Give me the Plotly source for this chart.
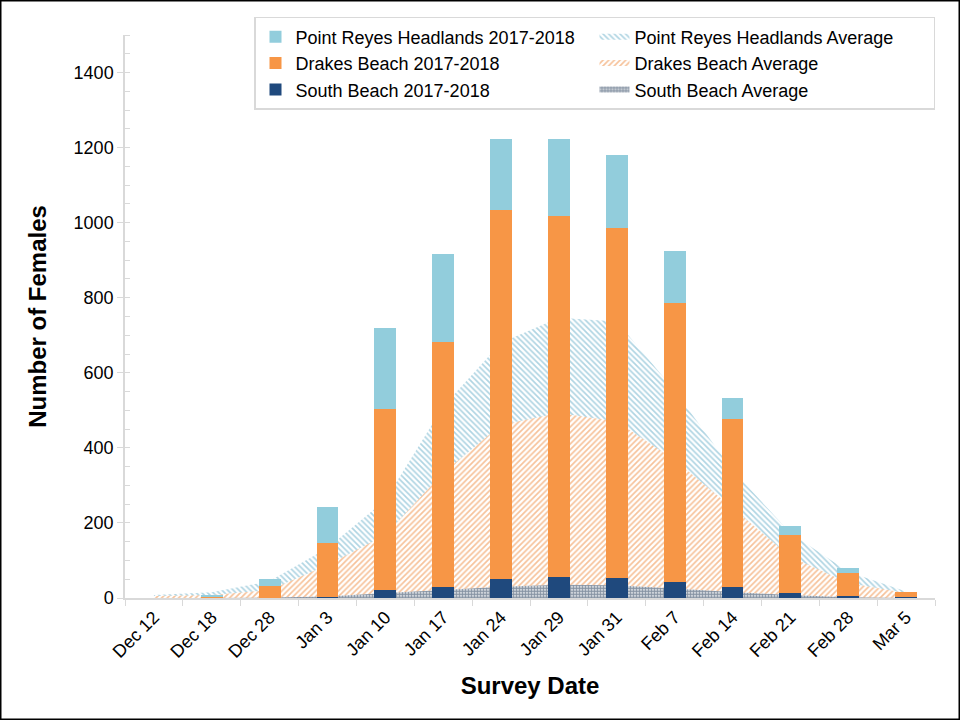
import plotly.graph_objects as go

# survey dates (category axis)
DATES = ["Dec 12", "Dec 18", "Dec 28", "Jan 3", "Jan 10", "Jan 17", "Jan 24",
         "Jan 29", "Jan 31", "Feb 7", "Feb 14", "Feb 21", "Feb 28", "Mar 5"]

# 2017-2018 counts (stacked bars)
SOUTH_1718 = [0, 0, 0, 4, 20, 29, 51, 57, 53, 43, 29, 13, 6, 2]
DRAKES_1718 = [0, 5, 32, 143, 484, 653, 982, 960, 934, 744, 448, 155, 61, 14]
PRH_1718 = [0, 2, 18, 95, 215, 235, 191, 207, 194, 138, 56, 24, 13, 0]

# long-term averages (stacked areas)
SOUTH_AVG = [0, 0, 1, 4, 13, 21, 30, 35, 34, 25, 16, 8, 2, 0]
DRAKES_AVG = [5, 8, 20, 84, 155, 313, 431, 458, 436, 343, 224, 102, 38, 13]
PRH_AVG = [3, 7, 24, 45, 93, 176, 219, 254, 267, 185, 101, 63, 30, 4]

LIGHT_BLUE = "#92CDDC"
ORANGE = "#F79646"
NAVY = "#1F497D"
AXIS_GREY = "#D9D9D9"
FONT = "Liberation Sans, Arial, sans-serif"

W, H = 960, 720
ML, MR, MT, MB = 125, 25, 35, 122
PW, PH = W - ML - MR, H - MT - MB

fig = go.Figure()

# averages: stacking runs south -> drakes -> headlands
area_specs = [
    ("South Beach Average", SOUTH_AVG, "#10294A", ".", 3, 0.75, 6),
    ("Drakes Beach Average", DRAKES_AVG, "#EE8535", "/", 4, 0.42, 4),
    ("Point Reyes Headlands Average", PRH_AVG, "#5FAAC6", "\\", 4, 0.42, 2),
]
for name, vals, color, shape, size, solid, rank in area_specs:
    fig.add_trace(go.Scatter(
        x=DATES, y=vals, name=name, mode="none",
        stackgroup="avg", fill="tonexty",
        fillcolor="rgba(0,0,0,0)",
        fillpattern=dict(shape=shape, fgcolor=color, bgcolor="rgba(0,0,0,0)",
                         size=size, solidity=solid),
        legendrank=rank, hoverinfo="skip",
    ))

bar_specs = [
    ("South Beach 2017-2018", SOUTH_1718, NAVY, 5),
    ("Drakes Beach 2017-2018", DRAKES_1718, ORANGE, 3),
    ("Point Reyes Headlands 2017-2018", PRH_1718, LIGHT_BLUE, 1),
]
for name, vals, color, rank in bar_specs:
    # bars live on an overlaid axis pair so they sit on top of the areas
    fig.add_trace(go.Bar(
        x=DATES, y=vals, name=name, marker=dict(color=color, line=dict(width=0)),
        xaxis="x2", yaxis="y2", legendrank=rank,
    ))

# outer frame of the picture
fig.add_shape(type="rect", xref="paper", yref="paper",
              x0=-ML / PW, x1=1 + MR / PW, y0=-MB / PH, y1=1 + MT / PH,
              line=dict(color="black", width=3), fillcolor="rgba(0,0,0,0)")

xaxis_common = dict(type="category", categoryorder="array", categoryarray=DATES,
                    range=[-0.5, len(DATES) - 0.5])

fig.update_layout(
    width=W, height=H,
    margin=dict(l=ML, r=MR, t=MT, b=MB),
    paper_bgcolor="white", plot_bgcolor="white",
    font=dict(family=FONT, size=18, color="black"),
    barmode="stack", bargap=0.62,
    showlegend=True,
    legend=dict(
        orientation="h", x=1, xanchor="right", y=1.032, yanchor="top",
        traceorder="normal",
        entrywidth=294, font=dict(size=18),
        bordercolor=AXIS_GREY, borderwidth=1.5, bgcolor="white",
        tracegroupgap=0, itemsizing="constant",
    ),
    xaxis=dict(
        **xaxis_common,
        showline=True, linecolor=AXIS_GREY, linewidth=1.5,
        ticks="outside", tickson="boundaries", ticklen=6, tickcolor=AXIS_GREY,
        tickangle=-45, tickfont=dict(size=18),
        showgrid=False, zeroline=False,
        title=dict(text="<b>Survey Date</b>", font=dict(size=24), standoff=16),
    ),
    yaxis=dict(
        range=[0, 1500], dtick=200, tick0=0,
        showline=True, linecolor=AXIS_GREY, linewidth=1.5,
        ticks="outside", ticklen=6, tickcolor=AXIS_GREY,
        minor=dict(dtick=50, ticks="inside", ticklen=5, tickcolor=AXIS_GREY, showgrid=False),
        tickfont=dict(size=18),
        showgrid=False, zeroline=False,
        title=dict(text="<b>Number of Females</b>", font=dict(size=24), standoff=20),
    ),
    xaxis2=dict(**xaxis_common, overlaying="x", visible=False),
    yaxis2=dict(range=[0, 1500], overlaying="y", visible=False),
)

fig.write_html("out.html", config={"displayModeBar": False},
               post_script="document.body.style.margin='0';")
